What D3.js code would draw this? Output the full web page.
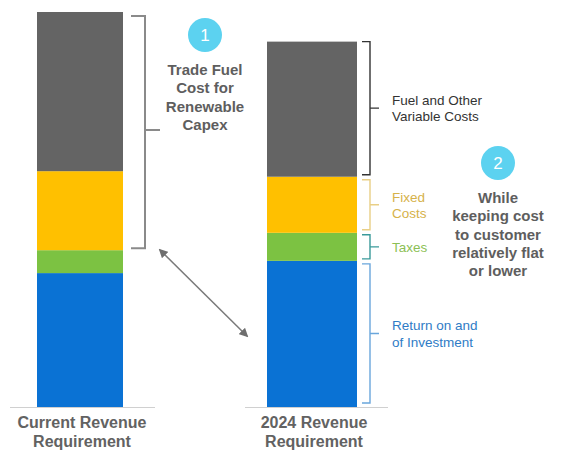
<!DOCTYPE html>
<html>
<head>
<meta charset="utf-8">
<script src="https://cdn.jsdelivr.net/npm/d3@7"></script>
<style>
  html, body { margin: 0; padding: 0; background: #fff; }
  svg { display: block; font-family: "Liberation Sans", Arial, sans-serif; }
</style>
</head>
<body>
<svg id="chart" width="562" height="451"></svg>
<script>
// Revenue requirement stacks (share of current total, bottom to top)
const categories = ["Current Revenue Requirement", "2024 Revenue Requirement"];
const components = ["Return on and of Investment", "Taxes", "Fixed Costs", "Fuel and Other Variable Costs"];
const currentValues = [33.9, 5.8, 20.0, 40.3];
const futureValues = [37.0, 7.1, 14.2, 34.2];
const componentColors = ["#0a72d4", "#7cc242", "#ffc000", "#646464"];
const labelColors = ["#2f7cc6", "#8cbf55", "#d6b24a", "#333333"];
const bracketColors = ["#6aa6dc", "#3a9a9a", "#e9cf86", "#333333"];
const axisLabels = [["Current Revenue", "Requirement"], ["2024 Revenue", "Requirement"]];
const rightLabels = [["Return on and", "of Investment"], ["Taxes"], ["Fixed", "Costs"], ["Fuel and Other", "Variable Costs"]];
const note1 = ["Trade Fuel", "Cost for", "Renewable", "Capex"];
const note2 = ["While", "keeping cost", "to customer", "relatively flat", "or lower"];

const svg = d3.select("#chart");

const y = d3.scaleLinear().domain([0, 100]).range([407, 12]);
const x = d3.scaleOrdinal().domain(categories).range([37, 267]);
const barWidths = [86, 90];

function stackOf(vals) {
  let acc = 0;
  return vals.map((v, i) => { const s = { i, y0: acc, y1: acc + v }; acc += v; return s; });
}
const stacks = [stackOf(currentValues), stackOf(futureValues)];

// baselines
const baseSpans = [[10, 155], [245, 388]];
baseSpans.forEach(s => {
  svg.append("line").attr("x1", s[0]).attr("x2", s[1])
    .attr("y1", y(0) + 0.5).attr("y2", y(0) + 0.5)
    .attr("stroke", "#d0d0d0").attr("stroke-width", 1);
});

// bars
categories.forEach((c, ci) => {
  svg.append("g").selectAll("rect").data(stacks[ci]).join("rect")
    .attr("x", x(c)).attr("width", barWidths[ci])
    .attr("y", d => y(d.y1)).attr("height", d => y(d.y0) - y(d.y1))
    .attr("fill", d => componentColors[d.i]);
});

// category labels under the bars
categories.forEach((c, ci) => {
  const cx = x(c) + barWidths[ci] / 2;
  const t = svg.append("text").attr("text-anchor", "middle")
    .attr("font-size", 16).attr("font-weight", "bold").attr("fill", "#626262");
  axisLabels[ci].forEach((line, li) => {
    t.append("tspan").attr("x", cx + 2).attr("y", 428 + li * 19).text(line);
  });
});

// bracket helper: "]" shape with a middle tick
function bracket(xEdge, yTop, yBot, arm, tick, color, width, yTick) {
  const ym = yTick !== undefined ? yTick : (yTop + yBot) / 2;
  svg.append("path")
    .attr("d", `M${xEdge - arm},${yTop}H${xEdge}V${yBot}H${xEdge - arm}M${xEdge},${ym}H${xEdge + tick}`)
    .attr("fill", "none").attr("stroke", color).attr("stroke-width", width);
}

// left bracket over fuel + fixed costs of the current stack
const cur = stacks[0];
bracket(145, y(cur[3].y1) + 4, y(cur[2].y0) - 2, 14, 15, "#8a8a8a", 2, 130);

// right brackets for each component of the 2024 stack
const fut = stacks[1];
const insets = [[3, 4], [2, 2], [3, 3], [0, 2]];
fut.forEach(d => {
  const top = y(d.y1) + insets[d.i][0];
  const bot = y(d.y0) - insets[d.i][1];
  bracket(370, top, bot, 8, 9, bracketColors[d.i], 1.4);
  const lines = rightLabels[d.i];
  const mid = (top + bot) / 2;
  const t = svg.append("text").attr("font-size", 13.5).attr("fill", labelColors[d.i]);
  lines.forEach((line, li) => {
    t.append("tspan").attr("x", 392)
      .attr("y", mid + 5 + (li - (lines.length - 1) / 2) * 16.5).text(line);
  });
});

// numbered callouts
function callout(cx, cy, num, lines, firstBase) {
  svg.append("circle").attr("cx", cx).attr("cy", cy).attr("r", 17).attr("fill", "#5cd2f0");
  svg.append("text").attr("x", cx).attr("y", cy + 6).attr("text-anchor", "middle")
    .attr("font-size", 17).attr("fill", "#ffffff").text(num);
  const t = svg.append("text").attr("text-anchor", "middle")
    .attr("font-size", 15).attr("font-weight", "bold").attr("fill", "#5e5e5e");
  lines.forEach((line, li) => {
    t.append("tspan").attr("x", cx).attr("y", firstBase + li * 18.3).text(line);
  });
}
callout(205, 35, "1", note1, 75);
callout(498, 163, "2", note2, 203);

// double-headed comparison arrow
const defs = svg.append("defs");
["start", "end"].forEach(k => {
  defs.append("marker").attr("id", "arrow-" + k)
    .attr("viewBox", "0 0 10 10").attr("refX", 8).attr("refY", 5)
    .attr("markerWidth", 6).attr("markerHeight", 6)
    .attr("orient", k === "start" ? "auto-start-reverse" : "auto")
    .append("path").attr("d", "M0,0L10,5L0,10z").attr("fill", "#6e6e6e");
});
svg.append("line")
  .attr("x1", 160).attr("y1", 250).attr("x2", 247).attr("y2", 336)
  .attr("stroke", "#7a7a7a").attr("stroke-width", 1.5)
  .attr("marker-start", "url(#arrow-start)").attr("marker-end", "url(#arrow-end)");
</script>
</body>
</html>
